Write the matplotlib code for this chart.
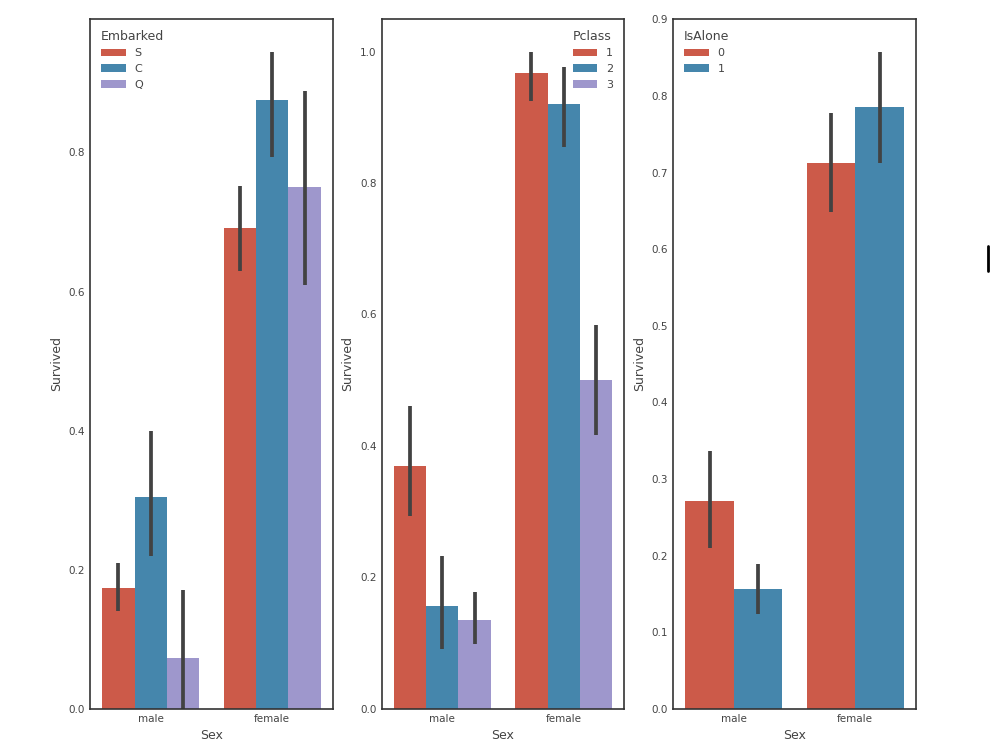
import matplotlib
matplotlib.use("Agg")
import matplotlib.pyplot as plt
from matplotlib.ticker import MultipleLocator
import seaborn as sns
import numpy as np

sns.set_style("white")
plt.rcParams['font.family'] = ['DejaVu Sans']

sex = ["male", "female"]

# Survived ~ Sex, hue Embarked
embarked = ["S", "C", "Q"]
emb_mean = {"S": [0.174, 0.692], "C": [0.305, 0.876], "Q": [0.073, 0.750]}
emb_lo = {"S": [0.140, 0.629], "C": [0.220, 0.794], "Q": [0.000, 0.609]}
emb_hi = {"S": [0.210, 0.752], "C": [0.400, 0.945], "Q": [0.171, 0.889]}

# Survived ~ Sex, hue Pclass
pclass = ["1", "2", "3"]
pc_mean = {"1": [0.369, 0.968], "2": [0.157, 0.921], "3": [0.135, 0.500]}
pc_lo = {"1": [0.294, 0.925], "2": [0.091, 0.855], "3": [0.099, 0.416]}
pc_hi = {"1": [0.460, 1.000], "2": [0.233, 0.976], "3": [0.177, 0.584]}

# Survived ~ Sex, hue IsAlone
isalone = ["0", "1"]
al_mean = {"0": [0.271, 0.713], "1": [0.157, 0.786]}
al_lo = {"0": [0.210, 0.648], "1": [0.124, 0.713]}
al_hi = {"0": [0.337, 0.778], "1": [0.189, 0.858]}

base_colors = ["#E24A33", "#348ABD", "#988ED5"]
colors = [sns.desaturate(c, 0.75) for c in base_colors]
txt = "#444444"


def hue_bars(ax, hues, mean, lo, hi, title, loc):
    n = len(hues)
    w = 0.8 / n
    x = np.arange(len(sex))
    for i, h in enumerate(hues):
        pos = x - 0.4 + w * (i + 0.5)
        ax.bar(pos, mean[h], width=w, color=colors[i], label=h, linewidth=0)
        ax.vlines(pos, lo[h], hi[h], color=".26", lw=2.7)
    ax.set_xticks(x)
    ax.set_xticklabels(sex)
    ax.set_xlim(-0.5, 1.5)
    top = max(max(v) for v in hi.values())
    ax.set_ylim(0, top * 1.05)
    ax.set_xlabel("Sex", fontsize=9, color=txt)
    ax.set_ylabel("Survived", fontsize=9, color=txt)
    ax.tick_params(labelsize=7.5, colors=txt, length=0)
    for s in ax.spines.values():
        s.set_color("#333333")
        s.set_linewidth(1.2)
    leg = ax.legend(title=title, loc=loc, frameon=False, fontsize=8,
                    title_fontsize=9, handlelength=2.2, borderaxespad=0.6)
    leg._legend_box.align = "left"
    for t in leg.get_texts():
        t.set_color(txt)
    leg.get_title().set_color(txt)


fig, axes = plt.subplots(1, 3, figsize=(10, 7.5), dpi=100)
fig.subplots_adjust(left=0.09, right=0.916, bottom=0.055, top=0.975, wspace=0.2)

hue_bars(axes[0], embarked, emb_mean, emb_lo, emb_hi, "Embarked", "upper left")
hue_bars(axes[1], pclass, pc_mean, pc_lo, pc_hi, "Pclass", "upper right")
hue_bars(axes[2], isalone, al_mean, al_lo, al_hi, "IsAlone", "upper left")
axes[2].yaxis.set_major_locator(MultipleLocator(0.1))

# small cursor artefact at the right edge of the screenshot
fig.add_artist(plt.Line2D([0.988, 0.988], [1 - 271 / 750, 1 - 246 / 750],
                          color="black", lw=2, transform=fig.transFigure))

fig.savefig("out.png", dpi=100)
